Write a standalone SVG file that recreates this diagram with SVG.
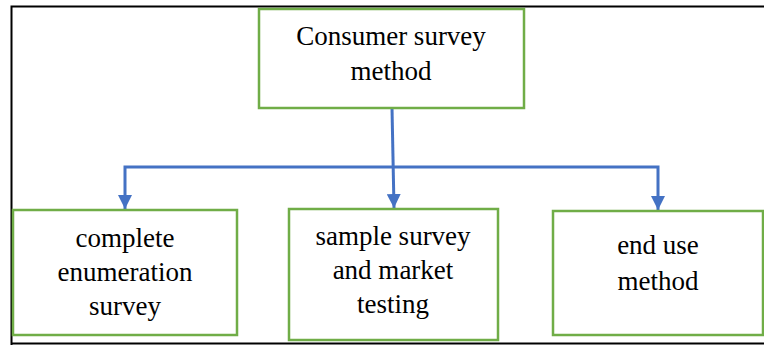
<svg xmlns="http://www.w3.org/2000/svg" width="764" height="345" viewBox="0 0 764 345">
<style>
.node rect{fill:#fff;stroke:#70AD47;stroke-width:2.5}
.node text{font-family:'Liberation Serif','DejaVu Serif',serif;font-size:27px;fill:#000;text-anchor:middle}
.conn path{fill:none;stroke:#4472C4;stroke-width:3}
</style>
<defs>
<marker id="arr" markerUnits="userSpaceOnUse" markerWidth="14" markerHeight="14" viewBox="0 0 10 10" refX="10" refY="5" orient="auto">
<path d="M0,0 L10,5 L0,10 z" fill="#4472C4"/>
</marker>
</defs>
<rect width="764" height="345" fill="#fff"/>
<path d="M11.5,345 V6.5 H764 M11.5,343.5 H764" fill="none" stroke="#000" stroke-width="2"/>
<g class="conn">
<path d="M393,167 H125 V209" marker-end="url(#arr)"/>
<path d="M393,167 H658 V210" marker-end="url(#arr)"/>
<path d="M392,108 L394,208" marker-end="url(#arr)"/>
</g>
<g id="top" class="node" font-family="Liberation Serif, serif">
<rect x="259" y="9" width="265" height="99"/>
<text x="391" y="45">Consumer survey</text>
<text x="391" y="80">method</text>
</g>
<g id="left" class="node">
<rect x="13" y="210" width="224" height="125"/>
<text x="125" y="247">complete</text>
<text x="125" y="281">enumeration</text>
<text x="125" y="315">survey</text>
</g>
<g id="mid" class="node">
<rect x="289" y="209" width="209" height="131"/>
<text x="393" y="245">sample survey</text>
<text x="393" y="279">and market</text>
<text x="393" y="313">testing</text>
</g>
<g id="right" class="node">
<rect x="553" y="211" width="210" height="124"/>
<text x="658" y="254">end use</text>
<text x="658" y="290">method</text>
</g>
</svg>
